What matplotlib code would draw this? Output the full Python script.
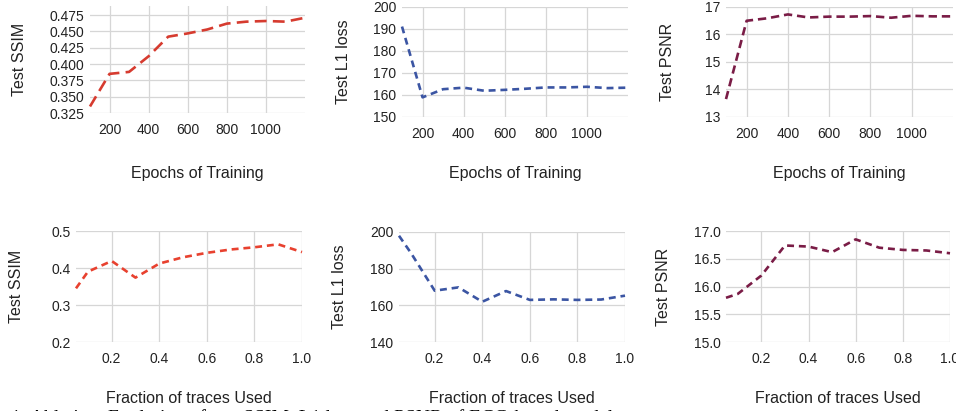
import matplotlib
matplotlib.use("Agg")
import matplotlib.pyplot as plt

plt.rcParams['font.family'] = ['Liberation Sans', 'DejaVu Sans']
plt.rcParams['lines.scale_dashes'] = False

# ---- data ----
epochs = [100, 200, 300, 400, 500, 600, 700, 800, 900, 1000, 1100, 1200]
ssim_epochs = [0.335, 0.385, 0.388, 0.412, 0.442, 0.447, 0.453, 0.462, 0.465, 0.466, 0.465, 0.471]
l1_epochs = [191.0, 158.9, 162.6, 163.3, 161.9, 162.3, 162.8, 163.4, 163.4, 163.7, 163.1, 163.3]
psnr_epochs = [13.65, 16.49, 16.58, 16.72, 16.61, 16.64, 16.64, 16.66, 16.60, 16.67, 16.65, 16.65]

fractions = [0.05, 0.1, 0.2, 0.3, 0.4, 0.5, 0.6, 0.7, 0.8, 0.9, 1.0]
ssim_frac = [0.345, 0.390, 0.419, 0.374, 0.412, 0.429, 0.441, 0.450, 0.456, 0.464, 0.443]
l1_frac = [197.8, 188.5, 168.0, 169.8, 162.0, 167.8, 163.0, 163.3, 163.0, 163.2, 165.3]
psnr_frac = [15.80, 15.87, 16.20, 16.74, 16.72, 16.62, 16.85, 16.70, 16.66, 16.65, 16.60]

epoch_ticks = [200, 400, 600, 800, 1000]
frac_ticks = [0.2, 0.4, 0.6, 0.8, 1.0]
frac_ticklabels = ['0.2', '0.4', '0.6', '0.8', '1.0']

W, H = 956, 411
fig = plt.figure(figsize=(W / 100, H / 100), dpi=100)


def px_axes(left, right, top, bottom):
    return fig.add_axes([left / W, 1 - bottom / H, (right - left) / W, (bottom - top) / H])


GRID = '#d6d6d6'
TXT = '#222222'


def style(ax):
    for s in ax.spines.values():
        s.set_visible(False)
    ax.grid(True, color=GRID, linewidth=0.9)
    ax.set_axisbelow(True)
    ax.tick_params(length=0, labelsize=10, colors=TXT)
    ax.tick_params(axis='x', pad=7)
    ax.tick_params(axis='y', pad=4)


panels = [
    # left, right, top, bottom, x, y, color, dashes, ylim, yticks, ylabels, xkind, ylabel, ylabel-x
    (90, 305, 6, 113, epochs, ssim_epochs, '#d63b2f', (8.5, 4.5), (0.325, 0.489),
     [0.325, 0.35, 0.375, 0.4, 0.425, 0.45, 0.475],
     ['0.325', '0.350', '0.375', '0.400', '0.425', '0.450', '0.475'], 'e', 'Test SSIM', 20),
    (402, 628, 6.7, 117, epochs, l1_epochs, '#3b55a3', (5, 3.5), (150, 200),
     [150, 160, 170, 180, 190, 200], ['150', '160', '170', '180', '190', '200'], 'e', 'Test L1 loss', 343),
    (726, 953, 6.7, 117, epochs, psnr_epochs, '#7a1c46', (6, 3.5), (13, 17),
     [13, 14, 15, 16, 17], ['13', '14', '15', '16', '17'], 'e', 'Test PSNR', 667),
    (76, 302, 231, 342, fractions, ssim_frac, '#e8412f', (5, 3.5), (0.2, 0.5),
     [0.2, 0.3, 0.4, 0.5], ['0.2', '0.3', '0.4', '0.5'], 'f', 'Test SSIM', 17),
    (399, 625, 231.7, 342.3, fractions, l1_frac, '#3b55a3', (5, 3.5), (140, 200),
     [140, 160, 180, 200], ['140', '160', '180', '200'], 'f', 'Test L1 loss', 340),
    (726, 950, 231, 342.3, fractions, psnr_frac, '#7a1c46', (5, 3.5), (15.0, 17.0),
     [15.0, 15.5, 16.0, 16.5, 17.0], ['15.0', '15.5', '16.0', '16.5', '17.0'], 'f', 'Test PSNR', 664),
]

for (l, r, t, b, xs, ys, col, dash, ylim, yt, ytl, kind, ylab, ylx) in panels:
    ax = px_axes(l, r, t, b)
    style(ax)
    ax.plot(xs, ys, color=col, linewidth=1.9, dashes=dash, solid_capstyle='butt',
            dash_capstyle='butt', clip_on=False)
    ax.set_ylim(*ylim)
    ax.set_yticks(yt)
    ax.set_yticklabels(ytl)
    if kind == 'e':
        ax.set_xlim(100, 1200)
        ax.set_xticks(epoch_ticks)
        ax.set_xticklabels([str(v) for v in epoch_ticks])
        xl = 'Epochs of Training'
        xly = 173
    else:
        ax.set_xlim(0.05, 1.0)
        ax.set_xticks(frac_ticks)
        ax.set_xticklabels(frac_ticklabels)
        xl = 'Fraction of traces Used'
        xly = 398
    fig.text(((l + r) / 2) / W, 1 - xly / H, xl, ha='center', va='center',
             fontsize=11.5, color=TXT)
    fig.text(ylx / W, 1 - ((t + b) / 2) / H, ylab, rotation=90, ha='center',
             va='center', fontsize=11.5, color=TXT)

# caption cut off at the bottom edge of the image (as in the reference)
fig.text(0.012, 1 - 419 / H,
         '1: Ablation. Evolution of test SSIM, L1 loss and PSNR of ECG-based models.',
         ha='left', va='center', fontsize=14, color='black',
         family=['Liberation Serif', 'DejaVu Serif'])

fig.savefig('out.png', dpi=100)
